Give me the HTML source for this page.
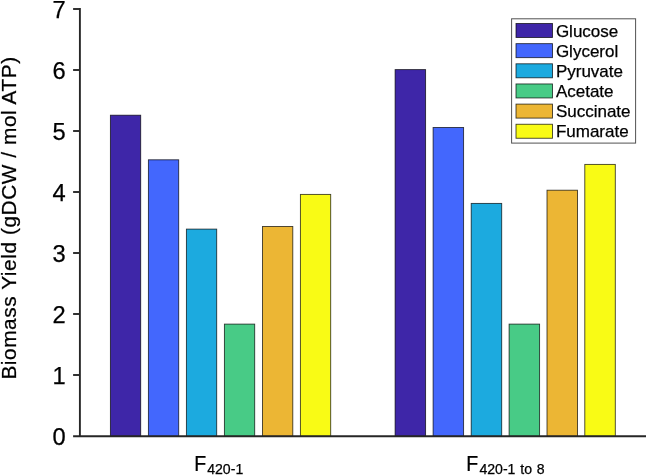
<!DOCTYPE html>
<html><head><meta charset="utf-8"><title>Biomass Yield</title>
<style>
html,body{margin:0;padding:0;background:#fff;}
body{width:646px;height:475px;overflow:hidden;}
svg{display:block;}
text{font-family:"Liberation Sans",Arial,Helvetica,sans-serif;fill:#000;stroke:#000;stroke-width:0.25px;}
.tick{font-size:23.7px;}
.leg{font-size:17px;}
.yl{font-size:20.8px;letter-spacing:0.58px;}
.xl{font-size:21.4px;}
.sub{font-size:14.1px;}
</style></head><body>
<svg width="646" height="475" viewBox="0 0 646 475">
<rect width="646" height="475" fill="#fff"/>
<rect x="110.40" y="115.20" width="30.30" height="321.10" fill="#3E26A8" stroke="#000" stroke-opacity="0.75" stroke-width="0.9"/>
<rect x="148.40" y="159.80" width="30.30" height="276.50" fill="#4367FD" stroke="#000" stroke-opacity="0.75" stroke-width="0.9"/>
<rect x="186.40" y="229.10" width="30.30" height="207.20" fill="#1CAADF" stroke="#000" stroke-opacity="0.75" stroke-width="0.9"/>
<rect x="224.40" y="324.10" width="30.30" height="112.20" fill="#48CB86" stroke="#000" stroke-opacity="0.75" stroke-width="0.9"/>
<rect x="262.50" y="226.50" width="30.30" height="209.80" fill="#ECB634" stroke="#000" stroke-opacity="0.75" stroke-width="0.9"/>
<rect x="300.40" y="194.40" width="30.30" height="241.90" fill="#F9FB15" stroke="#000" stroke-opacity="0.75" stroke-width="0.9"/>
<rect x="395.10" y="69.60" width="30.50" height="366.70" fill="#3E26A8" stroke="#000" stroke-opacity="0.75" stroke-width="0.9"/>
<rect x="433.10" y="127.50" width="30.50" height="308.80" fill="#4367FD" stroke="#000" stroke-opacity="0.75" stroke-width="0.9"/>
<rect x="471.20" y="203.40" width="30.50" height="232.90" fill="#1CAADF" stroke="#000" stroke-opacity="0.75" stroke-width="0.9"/>
<rect x="509.10" y="324.10" width="30.50" height="112.20" fill="#48CB86" stroke="#000" stroke-opacity="0.75" stroke-width="0.9"/>
<rect x="547.00" y="190.20" width="30.50" height="246.10" fill="#ECB634" stroke="#000" stroke-opacity="0.75" stroke-width="0.9"/>
<rect x="584.80" y="164.40" width="30.50" height="271.90" fill="#F9FB15" stroke="#000" stroke-opacity="0.75" stroke-width="0.9"/>
<path d="M79.9 8 V437.0" stroke="#262626" stroke-width="1.9" fill="none"/>
<path d="M73.1 436.3 H646" stroke="#262626" stroke-width="1.9" fill="none"/>
<path d="M73.1 375.0 H80" stroke="#262626" stroke-width="1.9" fill="none"/>
<path d="M73.1 314.0 H80" stroke="#262626" stroke-width="1.9" fill="none"/>
<path d="M73.1 253.0 H80" stroke="#262626" stroke-width="1.9" fill="none"/>
<path d="M73.1 192.0 H80" stroke="#262626" stroke-width="1.9" fill="none"/>
<path d="M73.1 131.0 H80" stroke="#262626" stroke-width="1.9" fill="none"/>
<path d="M73.1 70.0 H80" stroke="#262626" stroke-width="1.9" fill="none"/>
<path d="M73.1 9.0 H80" stroke="#262626" stroke-width="1.9" fill="none"/>
<text class="tick" x="65.8" y="444.6" text-anchor="end">0</text>
<text class="tick" x="65.8" y="383.6" text-anchor="end">1</text>
<text class="tick" x="65.8" y="322.6" text-anchor="end">2</text>
<text class="tick" x="65.8" y="261.6" text-anchor="end">3</text>
<text class="tick" x="65.8" y="200.6" text-anchor="end">4</text>
<text class="tick" x="65.8" y="139.6" text-anchor="end">5</text>
<text class="tick" x="65.8" y="78.6" text-anchor="end">6</text>
<text class="tick" x="65.8" y="17.6" text-anchor="end">7</text>
<text class="yl" transform="translate(16.3 379.6) rotate(-90)">Biomass Yield (gDCW / mol ATP)</text>
<text class="xl" transform="translate(194.3 471.1) scale(0.915 1)">F</text>
<text class="sub" x="207.2" y="474.3" style="word-spacing:0px">420-1</text>
<text class="xl" transform="translate(466.2 471.1) scale(0.915 1)">F</text>
<text class="sub" x="479.4" y="474.3" style="word-spacing:0.9px">420-1 to 8</text>
<rect x="511.6" y="18.8" width="124" height="124.3" fill="#fff" stroke="#262626" stroke-opacity="0.8" stroke-width="1"/>
<rect x="516.0" y="23.50" width="36.5" height="14.0" fill="#3E26A8" stroke="#000" stroke-opacity="0.75" stroke-width="0.9"/>
<text class="leg" x="555.9" y="37.00">Glucose</text>
<rect x="516.0" y="43.65" width="36.5" height="14.0" fill="#4367FD" stroke="#000" stroke-opacity="0.75" stroke-width="0.9"/>
<text class="leg" x="555.9" y="56.95">Glycerol</text>
<rect x="516.0" y="63.80" width="36.5" height="14.0" fill="#1CAADF" stroke="#000" stroke-opacity="0.75" stroke-width="0.9"/>
<text class="leg" x="555.9" y="76.90">Pyruvate</text>
<rect x="516.0" y="83.95" width="36.5" height="14.0" fill="#48CB86" stroke="#000" stroke-opacity="0.75" stroke-width="0.9"/>
<text class="leg" x="555.9" y="96.85">Acetate</text>
<rect x="516.0" y="104.10" width="36.5" height="14.0" fill="#ECB634" stroke="#000" stroke-opacity="0.75" stroke-width="0.9"/>
<text class="leg" x="555.9" y="116.80">Succinate</text>
<rect x="516.0" y="124.25" width="36.5" height="14.0" fill="#F9FB15" stroke="#000" stroke-opacity="0.75" stroke-width="0.9"/>
<text class="leg" x="555.9" y="136.75">Fumarate</text>
</svg>
</body></html>
